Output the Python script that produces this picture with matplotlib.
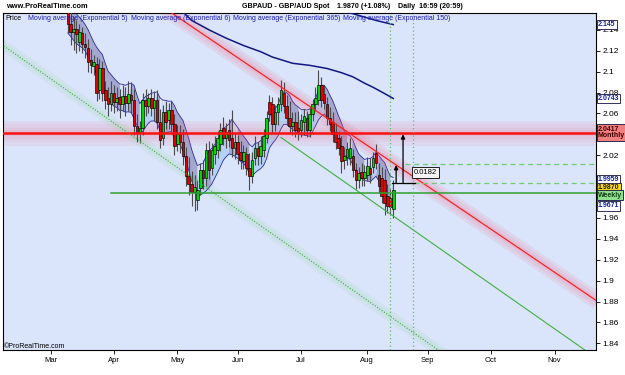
import numpy as np
import pandas as pd
import matplotlib
matplotlib.use("Agg")
import matplotlib.pyplot as plt

plt.rcParams['font.family'] = ['Liberation Sans', 'DejaVu Sans']

# trading days, position 0 = 2 Mar 2009
days = pd.bdate_range('2009-02-02', '2009-12-31')
day0 = days.get_loc(pd.Timestamp('2009-03-02'))
first_candle = days.get_loc(pd.Timestamp('2009-03-10')) - day0

# daily GBPAUD candles, 10 Mar .. 13 Aug 2009
opens = [2.157, 2.146, 2.138, 2.141, 2.128, 2.137, 2.126, 2.123, 2.111, 2.105,
         2.107, 2.082, 2.103, 2.082, 2.075, 2.069, 2.080, 2.071, 2.076, 2.069,
         2.077, 2.070, 2.078, 2.073, 2.048, 2.041, 2.046, 2.073, 2.067, 2.075,
         2.065, 2.073, 2.052, 2.036, 2.061, 2.054, 2.063, 2.050, 2.031, 2.040,
         2.033, 2.019, 2.000, 1.992, 1.985, 1.977, 1.989, 2.006, 1.998, 2.025,
         2.008, 2.021, 2.025, 2.031, 2.046, 2.036, 2.044, 2.036, 2.027, 2.033,
         2.023, 2.014, 2.021, 2.008, 2.000, 2.017, 2.027, 2.019, 2.025, 2.036,
         2.071, 2.069, 2.050, 2.061, 2.069, 2.080, 2.067, 2.056, 2.048, 2.052,
         2.046, 2.044, 2.052, 2.056, 2.044, 2.059, 2.069, 2.073, 2.087, 2.079,
         2.069, 2.056, 2.052, 2.042, 2.036, 2.029, 2.015, 2.018, 2.017, 2.019,
         2.006, 1.996, 2.004, 1.998, 2.001, 2.008, 2.009, 2.022, 2.001, 1.998,
         1.996, 1.981, 1.979, 1.969]
highs = [2.164, 2.157, 2.152, 2.149, 2.146, 2.143, 2.137, 2.131, 2.122, 2.116,
         2.114, 2.112, 2.110, 2.091, 2.085, 2.091, 2.087, 2.085, 2.083, 2.087,
         2.085, 2.091, 2.090, 2.083, 2.059, 2.053, 2.080, 2.083, 2.080, 2.083,
         2.081, 2.082, 2.064, 2.068, 2.072, 2.070, 2.072, 2.059, 2.049, 2.049,
         2.045, 2.028, 2.018, 2.005, 2.001, 1.996, 2.013, 2.015, 2.032, 2.034,
         2.032, 2.038, 2.043, 2.051, 2.057, 2.051, 2.055, 2.063, 2.042, 2.039,
         2.034, 2.030, 2.028, 2.022, 2.023, 2.038, 2.033, 2.038, 2.045, 2.062,
         2.078, 2.076, 2.068, 2.076, 2.092, 2.090, 2.078, 2.072, 2.061, 2.061,
         2.062, 2.059, 2.064, 2.062, 2.066, 2.074, 2.085, 2.102, 2.095, 2.087,
         2.076, 2.066, 2.061, 2.051, 2.043, 2.038, 2.028, 2.033, 2.036, 2.026,
         2.013, 2.009, 2.013, 2.011, 2.018, 2.017, 2.023, 2.031, 2.013, 2.009,
         2.007, 1.992, 1.988, 1.996]
lows = [2.137, 2.125, 2.121, 2.118, 2.120, 2.118, 2.113, 2.100, 2.099, 2.097,
        2.072, 2.074, 2.072, 2.064, 2.058, 2.062, 2.060, 2.062, 2.056, 2.062,
        2.058, 2.062, 2.060, 2.039, 2.033, 2.032, 2.039, 2.058, 2.060, 2.058,
        2.053, 2.045, 2.027, 2.030, 2.045, 2.045, 2.043, 2.020, 2.024, 2.022,
        2.011, 1.991, 1.982, 1.971, 1.967, 1.968, 1.982, 1.988, 1.991, 1.997,
        2.001, 2.012, 2.017, 2.024, 2.030, 2.027, 2.028, 2.018, 2.016, 2.012,
        2.007, 2.007, 2.001, 1.987, 1.993, 2.011, 2.011, 2.012, 2.018, 2.032,
        2.053, 2.041, 2.043, 2.049, 2.062, 2.060, 2.049, 2.041, 2.039, 2.037,
        2.035, 2.037, 2.039, 2.037, 2.037, 2.053, 2.062, 2.068, 2.066, 2.064,
        2.049, 2.043, 2.033, 2.026, 2.020, 2.003, 2.007, 2.011, 2.011, 1.999,
        1.988, 1.989, 1.991, 1.991, 1.995, 1.993, 2.003, 2.007, 1.984, 1.974,
        1.963, 1.965, 1.963, 1.960]
closes = [2.146, 2.138, 2.141, 2.136, 2.138, 2.126, 2.124, 2.109, 2.106, 2.109,
          2.080, 2.103, 2.080, 2.073, 2.069, 2.080, 2.071, 2.075, 2.069, 2.077,
          2.070, 2.079, 2.073, 2.048, 2.041, 2.046, 2.073, 2.067, 2.075, 2.065,
          2.073, 2.052, 2.035, 2.061, 2.052, 2.063, 2.050, 2.029, 2.040, 2.033,
          2.019, 2.000, 1.992, 1.985, 1.990, 1.987, 2.006, 1.998, 2.025, 2.006,
          2.025, 2.029, 2.036, 2.044, 2.036, 2.042, 2.035, 2.027, 2.033, 2.021,
          2.015, 2.023, 2.008, 2.000, 2.015, 2.027, 2.019, 2.029, 2.038, 2.056,
          2.059, 2.050, 2.061, 2.069, 2.082, 2.067, 2.056, 2.048, 2.052, 2.044,
          2.042, 2.054, 2.058, 2.044, 2.059, 2.069, 2.075, 2.087, 2.073, 2.070,
          2.056, 2.050, 2.040, 2.033, 2.027, 2.014, 2.019, 2.026, 2.027, 2.006,
          1.996, 2.003, 1.998, 2.004, 2.010, 2.002, 2.017, 2.013, 1.991, 1.981,
          1.974, 1.971, 1.970, 1.987]

# slow moving averages (sparse readings, position -> price)
ema150_pos = [46, 49, 55, 61, 67, 73, 77, 84, 90, 96, 101, 105, 109, 112, 116, 119]
ema150_val = [2.157, 2.149, 2.140, 2.132, 2.125, 2.119, 2.114, 2.108, 2.106, 2.103,
              2.099, 2.095, 2.089, 2.085, 2.079, 2.0743]
ema365_pos = [103, 108, 113, 119]
ema365_val = [2.157, 2.153, 2.149, 2.145]

# drawn objects
monthly_level = 2.0417
weekly_level = 1.9835
weekly_from = 21
red_trend = ([40, 190], [2.160, 1.880])
green_dotted = ([-17, 150], [2.126, 1.804])
green_trend = ([80, 190], [2.037, 1.825])
vlines_pos = [118, 126]
meas_levels = [2.0113, 1.9937]
meas_from = 123
arrows = [(120, 1.9937, 2.0106), (122.4, 1.9937, 2.0400)]
meas_text = '0.0182'

month_names = ['Mar', 'Apr', 'May', 'Jun', 'Jul', 'Aug', 'Sep', 'Oct', 'Nov']
hidden_ticks = [2.04, 2.0, 1.98]

# right side value boxes: (text, y value, face, text colour)
boxes = [('2.145', 2.145, 'white', '#1020a0'),
         ('2.0743', 2.0743, 'white', '#1020a0'),
         ('2.0417\nMonthly', 2.0417, '#f08080', '#400000'),
         ('1.9959', 1.9965, 'white', '#1020a0'),
         ('1.9870', 1.9893, '#f8d820', '#202020'),
         ('Weekly', 1.9818, '#90e090', '#104010'),
         ('1.9671', 1.9715, 'white', '#1020a0')]

W, H = 625, 375
fig = plt.figure(figsize=(W / 100, H / 100), dpi=100)
ax = fig.add_axes([3 / W, 1 - 350 / H, 593 / W, 337 / H])
ax.set_facecolor('#dae4fa')
ax.set_xlim(-16.5, 189.4)
ax.set_ylim(1.8336, 2.1561)

o = np.array(opens); h = np.array(highs); l = np.array(lows); c = np.array(closes)
x = np.arange(len(c)) + first_candle

# EMA band of highs / lows
ema_hi = pd.Series(h).ewm(span=5, adjust=False).mean().values
ema_lo = pd.Series(l).ewm(span=6, adjust=False).mean().values
mid = pd.Series(c).ewm(span=5, adjust=False).mean()
rising = (mid.diff().fillna(-1) > 0).values
ax.fill_between(x, ema_lo, ema_hi, where=~rising, color='#8888b8', alpha=0.65,
                lw=0, interpolate=True, zorder=1)
ax.fill_between(x, ema_lo, ema_hi, where=rising, color='#b0cff6', alpha=0.9,
                lw=0, interpolate=True, zorder=1)
ax.plot(x, ema_hi, color='#2a2aa0', lw=0.6, zorder=2)
ax.plot(x, ema_lo, color='#2a2aa0', lw=0.6, zorder=2)


def glow(xs, ys, color, widths, alpha):
    for lw in widths:
        ax.plot(xs, ys, color=color, lw=lw, alpha=alpha, solid_capstyle='butt', zorder=2)


# monthly level with glow
xl = ax.get_xlim()
glow(xl, [monthly_level] * 2, '#f06080', [18, 13, 8, 4], 0.08)
ax.axhline(monthly_level, color='#ff1010', lw=1.8, zorder=6)

# trend lines
glow(*red_trend, '#f06080', [12, 8, 4], 0.1)
ax.plot(*red_trend, color='#ff2020', lw=0.9, zorder=6)
glow(*green_dotted, '#60d060', [8, 4], 0.07)
ax.plot(*green_dotted, color='#40b040', lw=0.8, ls=(0, (1, 1.5)), zorder=6)
ax.plot(*green_trend, color='#40b040', lw=0.8, zorder=6)
ax.plot([weekly_from, xl[1]], [weekly_level] * 2, color='#30a030', lw=1.1, zorder=6)

for v in vlines_pos:
    ax.axvline(v, color='#60c060', lw=0.9, ls=(0, (1, 2)), zorder=6)

# slow MAs
ax.plot(ema150_pos, ema150_val, color='#101880', lw=1.1, zorder=3)
ax.plot(ema365_pos, ema365_val, color='#101880', lw=1.1, zorder=3)

# candles
up = c >= o
ax.vlines(x, l, h, color='#4a4a4a', lw=0.8, zorder=4)
body = np.maximum(np.abs(c - o), 0.0009)
ax.bar(x, body, bottom=np.minimum(o, c), width=0.88,
       color=np.where(up, '#00d800', '#e00000'), edgecolor='black', linewidth=0.45, zorder=5)

# measurement
for lv in meas_levels:
    ax.plot([meas_from, xl[1]], [lv, lv], color='#70cc70', lw=0.9, ls=(0, (4, 3)), zorder=6)
ax.plot([arrows[0][0] - 1.3, meas_from + 3.5], [meas_levels[1]] * 2, color='black', lw=0.9, zorder=7)
for ax_x, y0, y1 in arrows:
    ax.annotate('', xy=(ax_x, y1), xytext=(ax_x, y0), zorder=7,
                arrowprops=dict(arrowstyle='-|>', color='black', lw=0.9,
                                mutation_scale=6, shrinkA=0, shrinkB=0))
ax.text(130.2, 2.0035, meas_text, fontsize=5.5, ha='center', va='center', zorder=8,
        bbox=dict(boxstyle='square,pad=0.25', fc='#f4f4f4', ec='black', lw=0.6))

# axes
for s in ax.spines.values():
    s.set_linewidth(0.8)
ax.yaxis.tick_right()
yt = np.round(np.arange(1.84, 2.141, 0.02), 2)
ax.set_yticks(yt)
ax.set_yticklabels(['' if v in hidden_ticks else '%g' % v for v in yt])
ax.tick_params(axis='y', labelsize=6, length=3, width=0.6, pad=1.5)
month_pos = [days.get_loc(days[days.month == m][0]) - day0 for m in range(3, 12)]
ax.set_xticks(month_pos)
ax.set_xticklabels(month_names)
ax.tick_params(axis='x', labelsize=5.5, length=3, width=0.6, pad=2)

for txt, val, fc, tc in boxes:
    ax.text(1.003, val, txt, transform=ax.get_yaxis_transform(), fontsize=5,
            fontweight='bold', color=tc, va='center', ha='left', linespacing=0.95,
            zorder=10, clip_on=False,
            bbox=dict(boxstyle='square,pad=0.18', fc=fc, ec='#101040', lw=0.6))

# header and legend
hy = 1 - 7 / H
fig.text(6 / W, hy, 'www.ProRealTime.com', fontsize=5.3, fontweight='bold', va='center')
fig.text(242 / W, hy, 'GBPAUD - GBP/AUD Spot', fontsize=5.1, fontweight='bold', va='center')
fig.text(337 / W, hy, '1.9870 (+1.08%)', fontsize=5.1, fontweight='bold', va='center')
fig.text(398 / W, hy, 'Daily  16:59 (20:59)', fontsize=5.1, fontweight='bold', va='center')
fig.text(5 / W, 1 - 18 / H, 'Price', fontsize=5, va='center', zorder=10)
for px, name in [(28, 'Moving average (Exponential 5)'), (131, 'Moving average (Exponential 6)'),
                 (233, 'Moving average (Exponential 365)'), (343, 'Moving average (Exponential 150)')]:
    fig.text(px / W, 1 - 18 / H, name, fontsize=5, color='#1a1ab0', va='center', zorder=10)
fig.text(4 / W, 1 - 346 / H, '\u00a9ProRealTime.com', fontsize=5, va='center', zorder=10)

fig.savefig('out.png', dpi=100, facecolor='white')
